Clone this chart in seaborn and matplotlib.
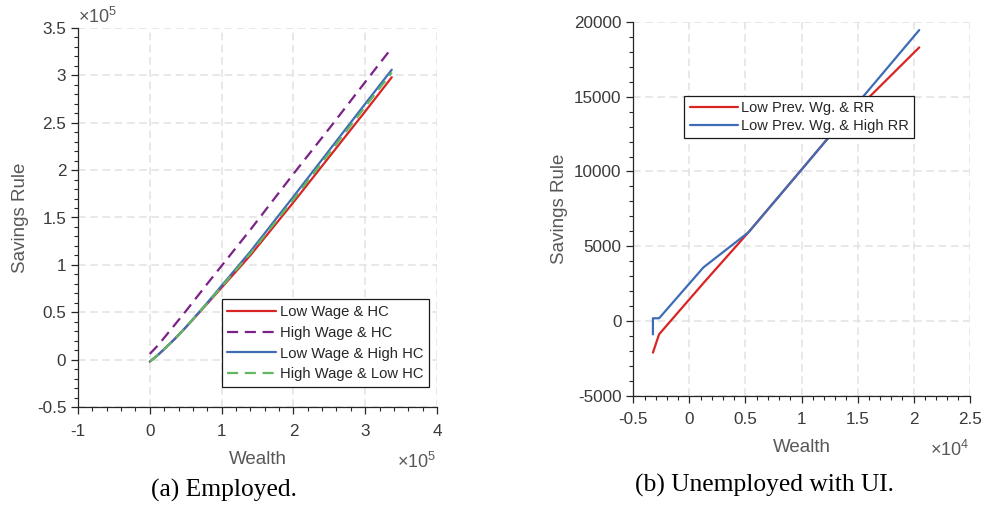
import matplotlib
matplotlib.use("Agg")
import matplotlib.pyplot as plt
import seaborn as sns
import pandas as pd
from matplotlib.ticker import MultipleLocator, AutoMinorLocator, FuncFormatter

# ---------------- data ----------------
# (a) Employed: wealth and savings rule (raw units)
emp_wealth = [0, 10000, 20000, 35000, 50000, 80000, 100000, 140000, 200000, 250000, 300000, 337000]
low_wage_hc = [-2000, 4000, 11000, 22000, 34000, 59000, 76000, 110000, 166000, 214000, 262000, 298000]
high_wage_hc = [6000, 14000, 23000, 37000, 51000, 80000, 99000, 137000, 196000, 244000, 293000, 329000]
low_wage_high_hc = [-2000, 4000, 11000, 22000, 34000, 60000, 78000, 114000, 172000, 221000, 270000, 306000]
high_wage_low_hc = [-2000, 4000, 11000, 22000, 34000, 59500, 77000, 112000, 169000, 218000, 267000, 303000]
emp_labels = ["Low Wage & HC", "High Wage & HC", "Low Wage & High HC", "High Wage & Low HC"]

# (b) Unemployed with UI
ui_wealth_rr = [-3250, -2700, 1250, 5270, 9820, 12800, 16300, 20500]
low_prev_rr = [-2120, -890, 2530, 5930, 9960, 12620, 15170, 18300]
ui_wealth_high_rr = [-3250, -3250, -2700, 1250, 5270, 9820, 20500]
low_prev_high_rr = [-900, 180, 180, 3580, 5930, 9960, 19460]
ui_labels = ["Low Prev. Wg. & RR", "Low Prev. Wg. & High RR"]

# ---------------- style ----------------
sns.set_theme(style="white")
plt.rcParams["font.family"] = ["Liberation Sans", "DejaVu Sans"]
plt.rcParams["axes.unicode_minus"] = False
plt.rcParams["mathtext.fontset"] = "custom"
plt.rcParams["mathtext.rm"] = "Liberation Sans"
plt.rcParams["mathtext.it"] = "Liberation Sans"

RED = "#d92424"
PURPLE = "#7b2188"
BLUE = "#3f6db5"
GREEN = "#62b862"
TICK_C = "#3a3a3a"
LABEL_C = "#585858"
GRID_C = "#e2e2e2"
LW = 1.6

W, H = 982, 512
fig = plt.figure(figsize=(W / 100, H / 100), dpi=100)


def px_axes(l, t, r, b):
    return fig.add_axes([l / W, 1 - b / H, (r - l) / W, (b - t) / H])


def style_axes(ax, scale_x, scale_y):
    for s in ["top", "right"]:
        ax.spines[s].set_visible(False)
    for s in ["left", "bottom"]:
        ax.spines[s].set_color("#262626")
        ax.spines[s].set_linewidth(0.9)
    ax.tick_params(which="major", direction="out", length=5, width=0.9,
                   color="#262626", labelsize=12.3, labelcolor=TICK_C,
                   bottom=True, left=True)
    ax.tick_params(axis="x", which="major", pad=7)
    ax.tick_params(axis="y", which="major", pad=3.5)
    ax.tick_params(which="minor", direction="out", length=3, width=0.8,
                   color="#262626", bottom=True, left=True)
    ax.xaxis.set_minor_locator(AutoMinorLocator(5))
    ax.yaxis.set_minor_locator(AutoMinorLocator(5))
    ax.xaxis.set_major_formatter(FuncFormatter(lambda v, p: f"{v / scale_x:g}"))
    ax.yaxis.set_major_formatter(FuncFormatter(lambda v, p: f"{v / scale_y:g}"))
    ax.grid(True, which="major", color=GRID_C, linestyle=(0, (5, 3)), linewidth=1.1)
    ax.set_axisbelow(True)
    ax.set_xlabel("Wealth", fontsize=13.5, color=LABEL_C)
    ax.set_ylabel("Savings Rule", fontsize=13.5, color=LABEL_C)


# ---------------- (a) Employed ----------------
ax1 = px_axes(78, 28, 437, 407)
series_a = [
    (low_wage_hc, RED, "-"),
    (high_wage_hc, PURPLE, (0, (5, 3))),
    (low_wage_high_hc, BLUE, "-"),
    (high_wage_low_hc, GREEN, (0, (5, 3))),
]
for (vals, col, ls), lab in zip(series_a, emp_labels):
    df = pd.DataFrame({"w": emp_wealth, "s": vals})
    sns.lineplot(data=df, x="w", y="s", ax=ax1, color=col, linestyle=ls,
                 linewidth=LW, label=lab, estimator=None, sort=False)
ax1.set_xlim(-100000, 400000)
ax1.set_ylim(-50000, 350000)
ax1.xaxis.set_major_locator(MultipleLocator(100000))
ax1.yaxis.set_major_locator(MultipleLocator(50000))
style_axes(ax1, 1e5, 1e5)
ax1.xaxis.set_label_coords(0.5, -0.117)
ax1.yaxis.set_label_coords(-0.137, 0.5)
leg1 = ax1.legend(loc="upper left", bbox_to_anchor=(0.400, 0.284), fontsize=10.6,
                  frameon=True, fancybox=False, framealpha=1, edgecolor="#1a1a1a",
                  handlelength=3.3, handletextpad=0.25, labelspacing=0.45,
                  borderpad=0.4, borderaxespad=0)
leg1.get_frame().set_linewidth(0.9)

# ---------------- (b) Unemployed with UI ----------------
ax2 = px_axes(633.3, 22, 969.7, 395.7)
df_rr = pd.DataFrame({"w": ui_wealth_rr, "s": low_prev_rr})
df_hrr = pd.DataFrame({"w": ui_wealth_high_rr, "s": low_prev_high_rr})
sns.lineplot(data=df_rr, x="w", y="s", ax=ax2, color=RED, linewidth=LW,
             label=ui_labels[0], estimator=None, sort=False)
sns.lineplot(data=df_hrr, x="w", y="s", ax=ax2, color=BLUE, linewidth=LW,
             label=ui_labels[1], estimator=None, sort=False)
ax2.set_xlim(-5000, 25000)
ax2.set_ylim(-5000, 20000)
ax2.xaxis.set_major_locator(MultipleLocator(5000))
ax2.yaxis.set_major_locator(MultipleLocator(5000))
style_axes(ax2, 1e4, 1)
ax2.xaxis.set_label_coords(0.5, -0.117)
ax2.yaxis.set_label_coords(-0.195, 0.5)
leg2 = ax2.legend(loc="upper left", bbox_to_anchor=(0.152, 0.803), fontsize=10.5,
                  frameon=True, fancybox=False, framealpha=1, edgecolor="#1a1a1a",
                  handlelength=3.3, handletextpad=0.25, labelspacing=0.27,
                  borderpad=0.35, borderaxespad=0)
leg2.get_frame().set_linewidth(0.9)

# ---------------- exponent labels and captions ----------------
def ftext(x, y, s, **kw):
    fig.text(x / W, 1 - y / H, s, **kw)

ftext(78, 17, r"$\times10^{5}$", fontsize=13, color=LABEL_C, ha="left", va="center")
ftext(397, 462, r"$\times10^{5}$", fontsize=13, color=LABEL_C, ha="left", va="center")
ftext(930, 450, r"$\times10^{4}$", fontsize=13, color=LABEL_C, ha="left", va="center")

ftext(224, 490, "(a) Employed.", fontsize=18.4, color="black", ha="center", va="center",
      family=["Liberation Serif", "DejaVu Serif"])
ftext(764, 485, "(b) Unemployed with UI.", fontsize=18.4, color="black", ha="center",
      va="center", family=["Liberation Serif", "DejaVu Serif"])

fig.savefig("out.png", dpi=100)
